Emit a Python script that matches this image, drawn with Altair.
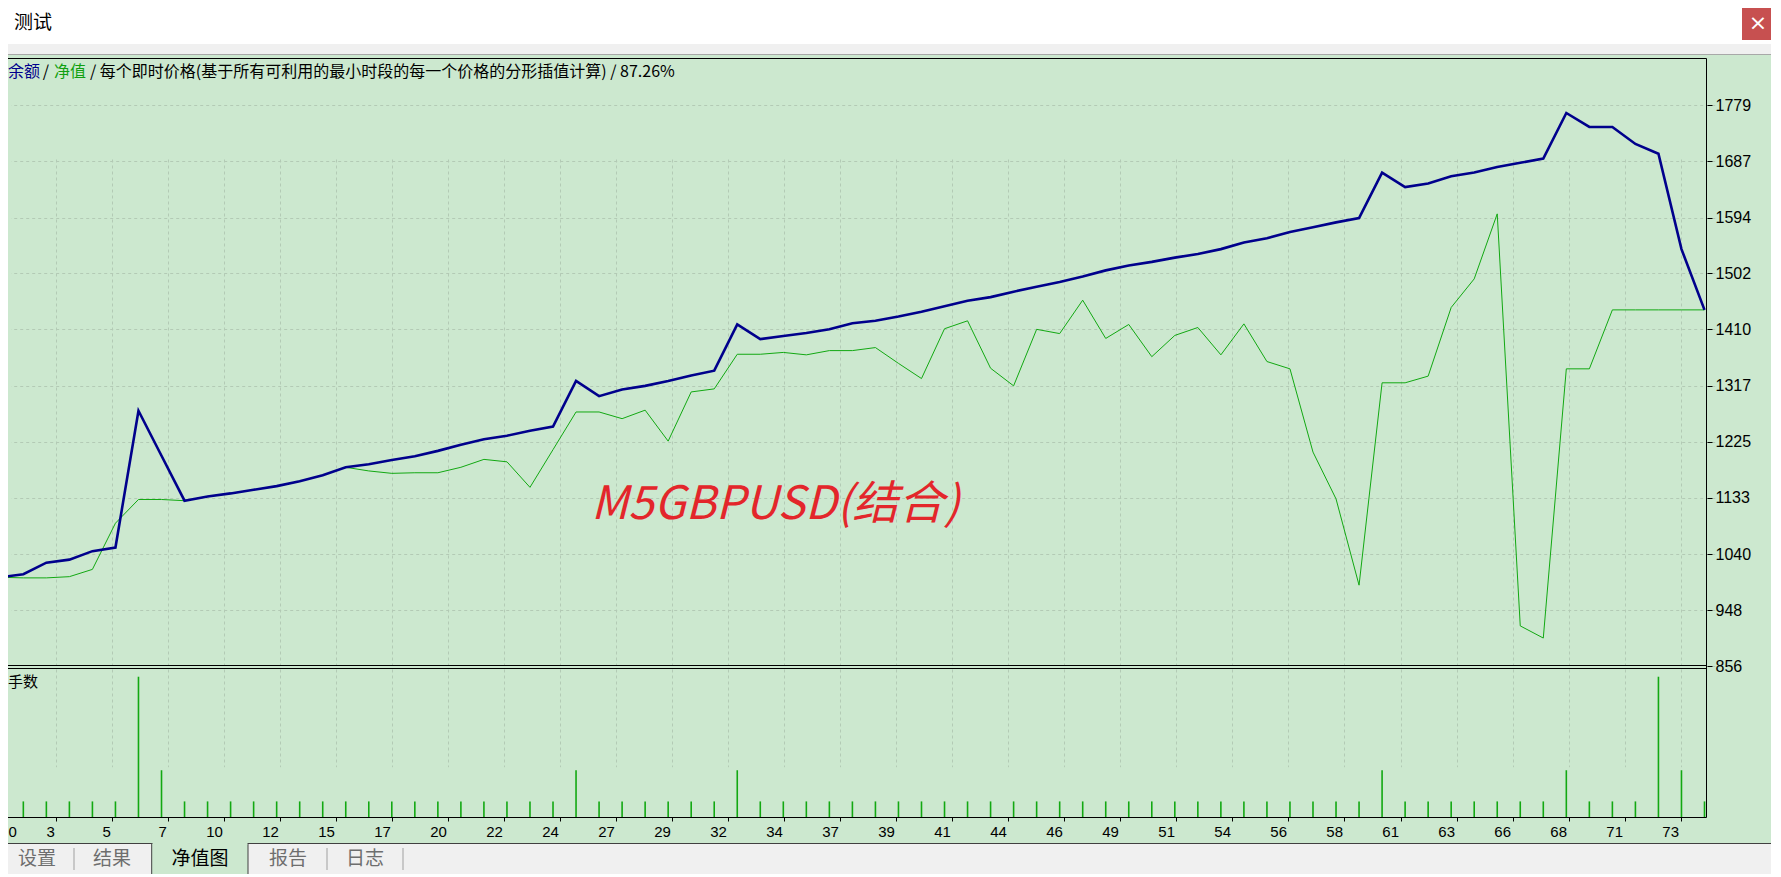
import altair as alt
import pandas as pd

# ---------------- data ----------------
trades = list(range(75))
balance = [1002, 1007, 1026, 1031, 1045, 1051, 1276, 1202, 1128, 1135,
           1140, 1146, 1152, 1160, 1170, 1183, 1188, 1195, 1201, 1210,
           1220, 1229, 1235, 1243, 1250, 1325, 1300, 1311, 1317, 1325,
           1334, 1342, 1418, 1394, 1399, 1404, 1410, 1420, 1424, 1431,
           1439, 1448, 1457, 1463, 1472, 1480, 1488, 1497, 1507, 1515,
           1521, 1528, 1534, 1542, 1553, 1560, 1570, 1578, 1586, 1593,
           1668, 1644, 1650, 1662, 1668, 1677, 1684, 1691, 1766, 1743,
           1743, 1715, 1699, 1542, 1442]
equity = [1002, 1001, 1001, 1003, 1015, 1091, 1130, 1130, 1128, 1135,
          1140, 1146, 1152, 1160, 1170, 1183, 1177, 1173, 1174, 1174,
          1183, 1196, 1192, 1150, 1212, 1274, 1274, 1263, 1277, 1226,
          1307, 1312, 1369, 1369, 1372, 1368, 1375, 1375, 1380, 1354,
          1329, 1411, 1424, 1346, 1317, 1410, 1403, 1458, 1395, 1418,
          1365, 1400, 1413, 1368, 1419, 1357, 1345, 1208, 1131, 989,
          1322, 1322, 1333, 1446, 1493, 1600, 922, 902, 1345, 1345,
          1442, 1442, 1442, 1442, 1442]
lot_trades = list(range(1, 75))
lots = [0.01, 0.01, 0.01, 0.01, 0.01, 0.09, 0.03, 0.01, 0.01, 0.01,
        0.01, 0.01, 0.01, 0.01, 0.01, 0.01, 0.01, 0.01, 0.01, 0.01,
        0.01, 0.01, 0.01, 0.01, 0.03, 0.01, 0.01, 0.01, 0.01, 0.01,
        0.01, 0.03, 0.01, 0.01, 0.01, 0.01, 0.01, 0.01, 0.01, 0.01,
        0.01, 0.01, 0.01, 0.01, 0.01, 0.01, 0.01, 0.01, 0.01, 0.01,
        0.01, 0.01, 0.01, 0.01, 0.01, 0.01, 0.01, 0.01, 0.01, 0.03,
        0.01, 0.01, 0.01, 0.01, 0.01, 0.01, 0.01, 0.03, 0.01, 0.01,
        0.01, 0.09, 0.03, 0.01]
x_tick_labels = [0, 3, 5, 7, 10, 12, 15, 17, 20, 22, 24, 27, 29, 32, 34, 37,
                 39, 41, 44, 46, 49, 51, 54, 56, 58, 61, 63, 66, 68, 71, 73]
y_tick_labels = [856, 948, 1040, 1133, 1225, 1317, 1410, 1502, 1594, 1687, 1779]

legend_balance = "余额"
legend_equity = "净值"
legend_rest = "/ 每个即时价格(基于所有可利用的最小时段的每一个价格的分形插值计算) / 87.26%"
window_title = "测试"
volume_label = "手数"
annotation = "M5GBPUSD(结合)"
tabs = ["设置", "结果", "净值图", "报告", "日志"]

# ---------------- styling / layout ----------------
BG = "#CCE8CF"
NAVY = "#00008C"
GREEN = "#12A812"
GRID = "#B3CAB5"
CJK = "Noto Sans CJK SC"
NUM = "Liberation Sans"
W, H = 1699, 809
TOTAL_W, TOTAL_H = 1763, 866
GRID_STEP = 2.432

main_df = pd.DataFrame({"trade": trades, "balance": balance, "equity": equity})
vol_df = pd.DataFrame({"trade": lot_trades, "lots": lots, "base": [0.0] * len(lots)})
one = pd.DataFrame({"k": [0]})

x_tick_values = [round(k * GRID_STEP, 4) for k in range(len(x_tick_labels))]
label_arr = "[" + ",".join(str(v) for v in x_tick_labels) + "]"

x_scale = alt.Scale(domain=[0, 74], range=[-7.7, 1696.5], nice=False, zero=False)
x_axis = alt.Axis(
    orient="bottom", values=x_tick_values,
    labelExpr=f"{label_arr}[round(datum.value / {GRID_STEP})]",
    domain=False, ticks=True, tickSize=4, tickColor="black", tickWidth=1,
    labelAlign="right", labelBaseline="top", labelPadding=3,
    labelFlush=False, labelOverlap=False, labelBound=False,
    labelFont=NUM, labelFontSize=15, labelColor="black",
    labelOffset={"condition": {"test": "datum.value == 0", "value": 16}, "value": -2},
    grid=True, gridColor=GRID, gridDash=[3, 3], gridWidth=1, title=None,
)
ysc = alt.Scale(domain=[856, 1856], range=[658, 50.3], nice=False, zero=False)
y_axis = alt.Axis(
    orient="right", values=y_tick_labels, format="d",
    domain=False, ticks=True, tickSize=5, tickColor="black",
    labelAlign="left", labelBaseline="middle", labelPadding=3,
    labelFont=NUM, labelFontSize=16, labelColor="black",
    labelOverlap=False, labelBound=False, labelFlush=False,
    grid=True, gridColor=GRID, gridDash=[3, 3], gridWidth=1, title=None,
)
vsc = alt.Scale(domain=[0, 0.0956], range=[809, 660], nice=False, zero=False)


def X():
    return alt.X("trade:Q", scale=x_scale, axis=x_axis)


def rect(x, x2, y, y2, fill, stroke=None, sw=1):
    if stroke:
        m = alt.Chart(one).mark_rect(fill=fill, stroke=stroke, strokeWidth=sw)
    else:
        m = alt.Chart(one).mark_rect(fill=fill)
    return m.encode(x=alt.value(x), x2=alt.value(x2), y=alt.value(y), y2=alt.value(y2))


def hline(y, x, x2, color="black", sw=1):
    return alt.Chart(one).mark_rule(color=color, strokeWidth=sw).encode(
        x=alt.value(x), x2=alt.value(x2), y=alt.value(y))


def vline(x, y, y2, color="black", sw=1):
    return alt.Chart(one).mark_rule(color=color, strokeWidth=sw).encode(
        x=alt.value(x), y=alt.value(y), y2=alt.value(y2))


def text(s, x, y, size, color="black", align="left", font=CJK, **kw):
    return alt.Chart(one).mark_text(
        text=s, align=align, baseline="middle", font=font, fontSize=size,
        color=color, **kw).encode(x=alt.value(x), y=alt.value(y))


# chrome backgrounds
layers = [
    rect(0, TOTAL_W, 0, 36, "white"),
    rect(0, TOTAL_W, 36, 46, "#F0F0F0"),
    hline(46.5, 0, TOTAL_W, "#A8A8A8"),
    rect(0, TOTAL_W, 47, 50, BG),
    rect(0, W, 658, 660, BG),
    rect(0, TOTAL_W, 835, TOTAL_H + 20, "#F0F0F0"),
    rect(1734, TOTAL_W + 10, 0, 32, "#C75050"),
    text("×", 1750, 15, 22, "white", align="center", font="DejaVu Sans"),
]

# frames
layers += [
    hline(50.5, 0, 1698.5),
    vline(1698.5, 50.5, 809.5),
    hline(657.5, 0, 1698.5),
    hline(660.5, 0, 1698.5),
    hline(809.5, 0, 1698.5),
    hline(835.5, 0, TOTAL_W, "#404040"),
]

# data
eq = alt.Chart(main_df).mark_line(color=GREEN, strokeWidth=1).encode(
    x=X(), y=alt.Y("equity:Q", scale=ysc, axis=y_axis))
bal = alt.Chart(main_df).mark_line(color=NAVY, strokeWidth=2.6).encode(
    x=X(), y=alt.Y("balance:Q", scale=ysc, axis=None))
vol = alt.Chart(vol_df).mark_rule(color=GREEN, strokeWidth=1.6).encode(
    x=X(), y=alt.Y("lots:Q", scale=vsc, axis=None), y2="base:Q")
layers += [eq, bal, vol]

# texts
layers += [
    text(window_title, 6, 15, 19),
    text(legend_balance, 0, 63.5, 16, NAVY),
    text("/", 38, 63.5, 16, "black", align="center"),
    text(legend_equity, 46, 63.5, 16, "#10A010"),
    text(legend_rest, 82, 63.5, 16, "black"),
    text(volume_label, 0, 674, 15),
    text(annotation, 583, 497, 46, "#E3262B", fontStyle="italic"),
]

# tabs
tab_x = [29, 104, 192, 280, 357]
layers += [
    rect(143.7, 240, 835.5, TOTAL_H + 20, BG, stroke="#404040", sw=1),
    hline(835.5, 144.5, 239.5, BG, 2),
    vline(66, 840, 862, "#A0A0A0"),
    vline(319, 840, 862, "#A0A0A0"),
    vline(395, 840, 862, "#A0A0A0"),
]
for name, cx in zip(tabs, tab_x):
    layers.append(text(name, cx, 851, 19, "black" if name == "净值图" else "#6E6E6E", align="center"))

chart = alt.layer(*layers).resolve_scale(y="independent").properties(
    width=W, height=H,
    padding={"left": 0, "top": 0, "right": TOTAL_W - W, "bottom": TOTAL_H - H},
    autosize=alt.AutoSizeParams(type="none"),
    background=BG,
).configure_view(strokeWidth=0)

chart.save("out.html", embed_options={"renderer": "svg", "actions": False})
